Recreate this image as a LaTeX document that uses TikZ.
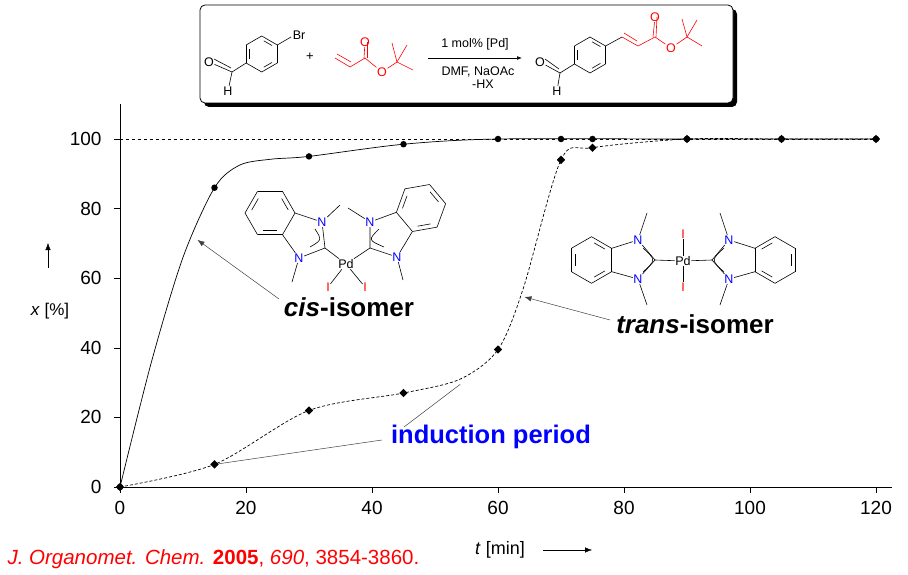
\documentclass[tikz,border=0pt]{standalone}
\usepackage{fontspec}
\setmainfont{Liberation Sans}
\usetikzlibrary{shapes.geometric,calc,arrows.meta}
\newcommand\myhex[5]{%
 \foreach \k in {0,...,5}{\draw[bond] ($(#1,#2)+(#4+60*\k:#3)$) -- ($(#1,#2)+(#4+60*\k+60:#3)$);}
 \foreach \k in {0,2,4}{\draw[bond] ($($(#1,#2)+(#4+60*\k+60*#5:#3)$)!.17!($(#1,#2)+(#4+60*\k+60+60*#5:#3)$)!.2!(#1,#2)$) -- ($($(#1,#2)+(#4+60*\k+60+60*#5:#3)$)!.17!($(#1,#2)+(#4+60*\k+60*#5:#3)$)!.2!(#1,#2)$);}}
\begin{document}
\begin{tikzpicture}[x=1pt,y=-1pt,
 bond/.style={line width=0.6pt},
 rbond/.style={line width=0.6pt,red},
 atom/.style={inner sep=0.5pt,fill=white,font=\fontsize{12.5}{13}\selectfont},
 natom/.style={atom,text=blue},
 iatom/.style={atom,text=red},
 tick/.style={font=\fontsize{19}{20}\selectfont},
 dot/.style={circle,fill=black,inner sep=0,minimum size=6.5pt},
 dia/.style={diamond,fill=black,inner sep=0,minimum size=8.5pt},
 big/.style={font=\fontsize{26}{29}\selectfont\bfseries},
 ptr/.style={line width=0.5pt,draw=black!75}]
\useasboundingbox (0,0) rectangle (908,575);
% reaction box
\fill[black,rounded corners=5pt] (204,9) rectangle (737,107);
\node[draw=black,line width=0.8pt,fill=white,rounded corners=5pt,minimum width=533pt,minimum height=98pt,inner sep=0] (box) at (466.5,54) {};
\myhex{261.7}{54}{18pt}{90}{1}
\draw[bond] ($(261.7,54)+(30:18pt)$) -- (291,37);
\node[atom] (br) at (299,35) {Br};
\draw[bond] ($(261.7,54)+(210:18pt)$) -- (232,72) coordinate (cho1);
\node[atom] (o1) at (209,62) {O};
\draw[bond] (cho1) -- (o1); \draw[bond] ($(cho1)+(-1,-4)$) -- ($(o1)+(5,-3)$);
\node[atom] (h1) at (228,91) {H};
\draw[bond] (cho1) -- (h1);
\node[font=\fontsize{13}{14}\selectfont] (plus) at (310,57) {+};
% acrylate
\node[iatom] (o2) at (365,42) {O};
\node[iatom] (o3) at (382,72) {O};
\draw[rbond] (335,58) -- (350,67) -- (365,58) -- (o3) -- (397,62);
\draw[rbond] (337,54) -- (351,62);
\draw[rbond] (364,58) -- (o2); \draw[rbond] (367,58) -- ($(o2)+(2,0)$);
\draw[rbond] (392,43) -- (397,62) -- (407,45); \draw[rbond] (397,62) -- (413,70);
% arrow
\draw[-{Latex[length=5pt]},line width=0.6pt] (428,58) coordinate (ra) -- (522,58) coordinate (rb);
\node[font=\fontsize{12.5}{13}\selectfont] (cat) at (475,44) {1 mol\% [Pd]};
\node[font=\fontsize{12.5}{13}\selectfont] (cond) at (478,72) {DMF, NaOAc};
\node[font=\fontsize{12.5}{13}\selectfont] (hx) at (483,84) {-HX};
% product
\myhex{590}{55}{18pt}{90}{1}
\draw[bond] ($(590,55)+(210:18pt)$) -- (560,73) coordinate (cho2);
\node[atom] (o4) at (540,62) {O};
\draw[bond] (cho2) -- (o4); \draw[bond] ($(cho2)+(-1,-4)$) -- ($(o4)+(5,-3)$);
\node[atom] (h2) at (557,91) {H};
\draw[bond] (cho2) -- (h2);
\draw[bond] ($(590,55)+(30:18pt)$) -- (622,37);
\node[iatom] (o5) at (655,17) {O};
\node[iatom] (o6) at (671,48) {O};
\draw[rbond] (622,37) -- (638,46) -- (655,37) -- (o6) -- (687,37);
\draw[rbond] (624,33) -- (637,41);
\draw[rbond] (653,37) -- (o5); \draw[rbond] (656,37) -- ($(o5)+(2,0)$);
\draw[rbond] (682,19) -- (687,37) -- (697,20); \draw[rbond] (687,37) -- (702,46);
% axes
\draw[line width=0.6pt] (120,104) coordinate (ytop) -- (120,487) coordinate (orig) -- (892,487) coordinate (xend);
\foreach \t in {0,20,...,120}{\draw (120+6.3*\t,487) -- (120+6.3*\t,493); \node[tick] (xt\t) at (120+6.3*\t,508) {\t};}
\foreach \v in {0,20,...,100}{\draw (114,487-3.48*\v) -- (120,487-3.48*\v); \node[tick,anchor=east] (yt\v) at (105,487-3.48*\v) {\v};}
\draw[dashed,line width=0.5pt] (120,139) -- (876,139);
\node[font=\fontsize{17}{18}\selectfont] (ylab) at (50,311) {\textit{x} [\%]};
\draw[-{Latex[length=7pt]}] (48,268) -- (48,243);
\node[font=\fontsize{18}{19}\selectfont] (xlab) at (500,550) {\textit{t} [min]};
\draw[-{Latex[length=7pt]}] (543,550) -- (592,550);
\node[anchor=west,text=red,font=\fontsize{20.5}{22}\selectfont] (cite) at (4,559) {\textit{J. Organomet. Chem.} \textbf{2005}, \textit{690}, 3854-3860.};
% curves
\begin{scope}[xshift=120pt,yshift=-487pt,x=6.3pt,y=3.48pt]
\draw[line width=0.7pt] plot[smooth,tension=0.5] coordinates {(0,0) (5,36) (10,66) (15,86) (19,92.5) (24,94.2) (30,95) (45,98.5) (60,100) (90,100) (120,100)};
\draw[line width=0.7pt,dash pattern=on 3pt off 2pt] plot[smooth,tension=0.5] coordinates {(0,0) (15,6.5) (30,22) (45,27) (54,31) (60,39.5) (64,57) (70,94) (75,97.5) (90,100) (105,100) (120,100)};
\foreach \t/\v [count=\i] in {0/0,15/86,30/95,45/98.5,60/100,70/100,75/100,90/100,105/100,120/100}{\node[dot] (c\i) at (\t,\v) {};}
\foreach \t/\v [count=\i] in {0/0,15/6.5,30/22,45/27,60/39.5,70/94,75/97.5,90/100,105/100,120/100}{\node[dia] (d\i) at (\t,\v) {};}
\coordinate (cisp) at (12.3,71);
\coordinate (transp) at (64.2,54.6);
\coordinate (indp) at (54,29.5);
\end{scope}
% cis complex
\myhex{270}{213}{25pt}{0}{0}
\node[natom] (n1) at (322,222) {N};
\node[natom] (n3) at (299,258) {N};
\coordinate (cc2) at (325,248);
\node[atom] (pd1) at (346,264) {Pd};
\draw[bond] (295,213) -- (n1) -- (cc2) -- (n3) -- (282.5,234.7);
\draw[bond] (n1) -- (340,205); \draw[bond] (n3) -- (292,282);
\draw[bond] (315,229) .. controls (322,240) .. (310,247);
\myhex{421}{208}{25pt}{10}{0}
\node[natom] (n1r) at (370,222) {N};
\node[natom] (n3r) at (397,257) {N};
\coordinate (cc2r) at (370,248);
\draw[bond] (396.4,212.3) -- (n1r) -- (cc2r) -- (n3r) -- (412.4,231.5);
\draw[bond] (n1r) -- (348,208); \draw[bond] (n3r) -- (403,280);
\draw[bond] (379,229) .. controls (368,240) .. (384,247);
\node[iatom] (i1) at (328,287) {I};
\node[iatom] (i2) at (365,287) {I};
\draw[bond] (cc2) -- (pd1) -- (cc2r);
\draw[bond] (pd1) -- (i1); \draw[bond] (pd1) -- (i2);
\node[big] (cis) at (349,307) {\textit{cis}-isomer};
\draw[ptr,-{Latex[length=7pt]}] (279,299) -- (cisp);
% trans complex
\myhex{591.5}{260}{23.3pt}{30}{0}
\node[natom] (tn1) at (638,240) {N};
\node[natom] (tn3) at (638,279) {N};
\coordinate (tc2) at (655,260);
\node[atom] (pd2) at (683,261) {Pd};
\draw[bond] (611.7,248.3) -- (tn1) -- (tc2) -- (tn3) -- (611.7,271.7);
\draw[bond] (tn1) -- (647,213); \draw[bond] (tn3) -- (647,305);
\draw[bond] (643,248) .. controls (656,260) .. (643,272);
\myhex{775}{260}{23.3pt}{30}{1}
\node[natom] (tn1r) at (729,240) {N};
\node[natom] (tn3r) at (729,279) {N};
\coordinate (tc2r) at (712,260);
\draw[bond] (755,248.3) -- (tn1r) -- (tc2r) -- (tn3r) -- (755,271.7);
\draw[bond] (tn1r) -- (720,213); \draw[bond] (tn3r) -- (720,305);
\draw[bond] (724,248) .. controls (711,260) .. (724,272);
\draw[bond] (tc2) -- (pd2) -- (tc2r);
\node[iatom] (ti1) at (683,234) {I};
\node[iatom] (ti2) at (683,287) {I};
\draw[bond] (ti1) -- (pd2) -- (ti2);
\node[big] (trans) at (695,324) {\textit{trans}-isomer};
\draw[ptr,-{Latex[length=7pt]}] (610,320) -- (transp);
% induction
\node[font=\fontsize{25.5}{28}\selectfont\bfseries,text=blue] (ind) at (491,437) {induction period};
\draw[ptr] (382,440) -- (d2);
\draw[ptr] (404,427) -- (indp);
\end{tikzpicture}
\end{document}
